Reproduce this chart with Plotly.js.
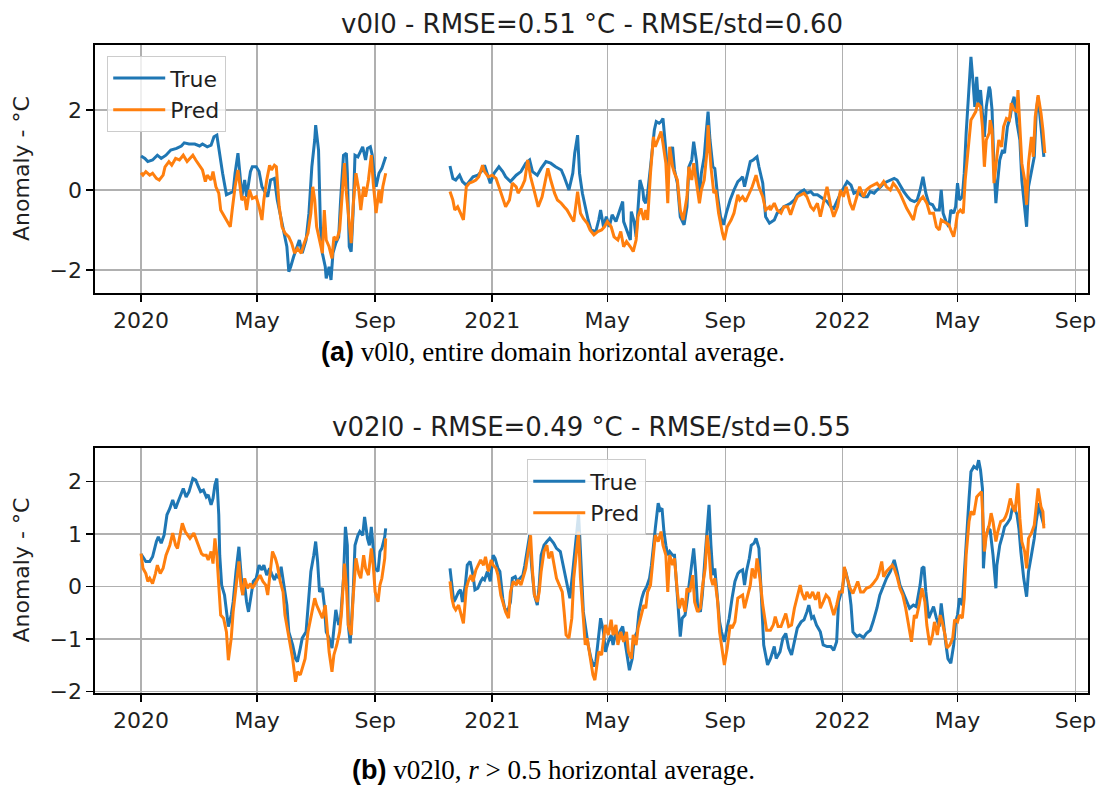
<!DOCTYPE html>
<html>
<head>
<meta charset="utf-8">
<script src="https://cdn.plot.ly/plotly-3.0.1.min.js"></script>
<style>
  html, body { margin: 0; padding: 0; background: #ffffff; }
  #chart { width: 1099px; height: 796px; }
</style>
</head>
<body>
<div id="chart"></div>
<script>
// Horizontal-average temperature anomalies (°C), sampled by day number
// counted from 1 January 2020. The null at day 290 marks the missing
// period between the 2020 and 2021 records.

// ---- v0l0 : entire domain ----
const v0l0TrueDay = [0,4,7,12,17,21,26,31,37,42,45,50,56,61,64,69,73,76,79,82,85,89,92,96,98,101,103,105,108,110,114,116,120,123,126,129,132,135,139,142,146,149,152,154,156,159,162,165,168,172,175,178,181,182,185,187,189,192,193,196,198,200,203,206,208,211,214,215,217,219,221,223,226,228,231,234,236,239,241,243,245,248,251,255,
  290,
  322,325,328,332,335,339,342,346,351,356,358,361,364,368,373,377,380,385,391,396,401,405,408,413,417,422,427,432,438,441,446,450,452,455,457,460,463,466,469,474,477,479,482,485,488,491,495,498,502,503,507,510,511,514,516,518,520,523,524,526,528,531,533,535,537,540,542,544,546,549,551,554,556,559,562,566,569,571,574,576,579,582,584,587,589,591,593,596,598,601,604,607,610,614,618,622,624,627,629,632,635,638,642,644,648,651,655,
  660,663,667,670,674,677,681,684,688,691,694,698,701,705,708,712,715,719,722,726,729,733,736,740,743,747,750,753,757,760,764,767,771,774,778,781,785,788,792,795,799,802,806,809,812,815,818,821,825,828,832,834,836,839,842,844,847,849,851,853,856,858,860,863,865,867,869,871,873,875,877,879,881,884,885,887,889,891,893,895,898,900,903,906,908,910,913,916,918,921,923,925,928,931,933,935,938,941];
const v0l0TrueVal = [0.85,0.79,0.71,0.75,0.87,0.79,0.87,1.0,1.04,1.1,1.18,1.15,1.15,1.1,1.15,1.08,1.12,1.33,1.37,0.83,0.42,-0.12,-0.08,-0.04,0.42,0.92,0.42,-0.17,0.25,-0.17,0.46,0.58,0.58,0.46,0.08,-0.04,-0.17,0.25,0.29,-0.25,-0.75,-1.08,-1.42,-2.04,-1.92,-1.67,-1.46,-1.25,-1.58,-1.25,-0.58,0.58,1.25,1.62,1.0,-0.92,-1.58,-1.92,-2.21,-1.92,-2.25,-1.58,-1.33,-1.17,-0.25,0.87,0.92,0.42,-1.42,-1.54,-0.58,0.87,0.83,0.92,1.08,0.75,1.04,1.08,0.87,0.42,0.08,0.42,0.54,0.83,
  null,
  0.6,0.29,0.25,0.37,0.21,0.12,0.21,0.33,0.37,0.5,0.62,0.37,0.17,0.42,0.58,0.46,0.33,0.21,0.37,0.46,0.67,0.75,0.46,0.37,0.54,0.71,0.67,0.58,0.5,0.33,0,0.42,0.92,1.37,0.42,-0.08,-0.42,-0.75,-1.0,-1.04,-0.75,-0.5,-0.92,-0.67,-0.92,-0.62,-0.79,-0.58,-0.29,-0.79,-1.08,-1.25,-0.54,-0.79,-1.17,-0.42,0.25,0,-0.25,-0.33,-0.08,0.58,1.0,1.5,1.71,1.67,1.71,1.79,1.25,0.42,0.83,1.08,0.5,0.17,-0.67,-0.87,-0.42,0.58,0.75,1.21,0.71,-0.17,0.42,0.83,1.42,1.96,1.25,0.58,0.54,-0.17,-0.67,-0.87,-0.58,-0.25,0,0.21,0.25,0.33,0.08,0.42,0.71,0.75,0.83,0.58,0.17,-0.67,-0.83,
  -0.75,-0.58,-0.5,-0.42,-0.37,-0.33,-0.25,-0.12,-0.04,0,-0.08,-0.04,-0.12,-0.12,-0.17,-0.25,-0.29,-0.42,-0.46,-0.25,-0.08,0.08,0.21,0.12,-0.08,-0.04,-0.12,-0.17,-0.17,-0.04,-0.08,0,0.08,0.17,0.21,0.25,0.29,0.25,0.08,-0.04,-0.17,-0.25,-0.29,-0.25,0,0.33,-0.08,-0.33,-0.37,-0.5,-0.5,0,-0.58,-0.79,-0.92,-0.5,-0.58,-0.42,0.17,-0.25,-0.17,0.42,1.42,2.5,3.33,2.75,2.08,2.83,2.08,2.5,2.0,1.33,2.08,2.58,2.5,2.0,0.58,-0.33,0.25,0.75,1.0,0.92,1.58,1.83,2.17,2.33,1.67,1.25,0.25,-0.58,-0.92,0.08,0.5,0.83,1.92,2.33,1.58,0.83];

const v0l0PredDay = [0,2,5,9,12,16,19,23,25,29,32,36,40,44,48,51,54,57,61,64,67,69,73,75,78,81,83,87,90,93,95,98,101,103,105,108,110,113,116,120,123,126,128,131,134,136,139,141,144,147,150,154,157,160,163,167,170,174,177,179,181,183,186,189,191,193,196,199,201,204,207,209,212,214,216,219,221,224,227,229,232,234,237,240,242,245,248,250,252,255,
  290,
  322,325,327,330,333,336,339,342,346,349,352,356,358,362,366,370,373,377,380,384,387,391,393,397,400,403,406,410,414,418,422,424,427,431,434,438,441,444,448,451,455,458,461,465,468,472,476,480,483,486,490,493,497,500,503,506,510,513,516,518,521,524,526,528,531,534,536,539,542,544,547,549,551,554,556,559,562,565,569,571,574,576,579,582,584,587,590,591,594,597,599,602,606,608,611,615,618,622,624,627,630,634,637,641,644,648,651,655,
  656,660,663,667,670,674,677,681,684,688,691,694,698,701,705,708,712,715,719,722,726,729,732,735,739,742,746,749,753,756,760,763,767,770,774,777,781,784,787,791,794,798,801,805,808,812,815,819,822,826,829,832,834,837,840,842,844,847,849,851,854,857,859,862,865,867,870,872,875,877,879,881,884,885,887,889,892,894,897,899,902,905,907,910,913,914,916,918,921,923,925,928,930,932,935,938,940,942];
const v0l0PredVal = [0.43,0.37,0.46,0.37,0.42,0.29,0.25,0.37,0.58,0.71,0.62,0.79,0.75,0.87,0.71,0.79,0.87,0.75,0.62,0.5,0.21,0.37,0.25,0.46,0.08,-0.08,-0.5,-0.67,-0.79,-0.92,-0.5,0.08,0.5,0.17,-0.25,-0.17,-0.5,0,-0.21,-0.17,-0.42,-0.75,-0.25,0.25,0.62,0.5,0.62,0.58,-0.42,-0.92,-1.08,-1.17,-1.33,-1.58,-1.46,-1.58,-1.33,-1.08,-0.58,0.08,-0.25,-0.92,-1.25,-1.58,-0.5,-1.25,-1.42,-1.71,-1.17,-1.25,-1.0,-0.33,0.67,-0.08,-0.58,-1.33,-0.42,0.42,0,-0.5,0.08,-0.17,0.25,0.87,0.17,-0.58,0,-0.33,0.08,0.42,
  null,
  -0.04,-0.25,-0.5,-0.42,-0.58,-0.75,0.08,0.17,0.21,0.25,0.33,0.62,0.46,0.33,0.37,0.29,0.08,-0.21,-0.42,-0.25,0.17,0.08,-0.08,0.08,0.25,0.75,0.33,-0.04,-0.42,-0.17,0.25,0.54,0.25,-0.08,-0.25,-0.33,-0.42,-0.5,-0.67,-0.79,-0.04,-0.58,-0.71,-0.83,-1.0,-1.12,-1.04,-1.0,-0.92,-0.79,-0.92,-1.17,-1.25,-1.04,-1.42,-1.29,-1.42,-1.54,-1.25,-0.67,-0.46,-0.75,-0.5,-0.75,0.42,1.33,1.08,1.25,1.46,1.17,0.67,-0.33,1.08,0.58,0.42,0.25,-0.5,-0.75,-0.17,0.58,0.25,0.67,0.17,-0.33,0,0.25,1.0,1.62,0.58,-0.08,0,-0.58,-1.08,-1.25,-0.92,-0.75,-0.58,-0.12,-0.25,-0.17,-0.29,-0.08,0.08,0.37,0.08,-0.17,-0.5,-0.42,
  -0.5,-0.33,-0.5,-0.58,-0.42,-0.42,-0.62,-0.33,-0.17,-0.12,-0.08,-0.17,-0.42,-0.5,-0.33,-0.67,-0.25,0.08,-0.42,-0.67,-0.42,0,-0.17,0.08,-0.33,-0.5,-0.17,0.08,-0.17,0,0.08,0.12,0.17,0.08,0.21,0.08,0,0.17,0.08,-0.08,-0.25,-0.46,-0.58,-0.75,-0.42,-0.25,-0.17,-0.33,-0.58,-0.58,-0.92,-1.0,-0.75,-0.79,-0.83,-0.87,-1.0,-1.17,-0.92,-0.58,-0.5,-0.58,0.25,1.08,1.75,1.83,1.96,2.17,2.08,1.58,0.58,1.25,1.42,1.75,1.5,0.17,0.92,1.25,1.08,1.58,1.79,1.75,2.17,2.0,1.96,2.5,1.58,0.67,0.25,-0.37,0.67,1.33,0.83,1.83,2.37,1.92,1.5,0.92];

// ---- v02l0 : r > 0.5 ----
const v02l0TrueDay = [0,2,5,9,12,16,18,21,24,27,30,33,36,38,42,44,47,50,54,57,59,62,65,68,70,73,75,77,79,81,82,84,87,89,91,94,96,99,102,104,106,108,110,112,115,117,120,123,126,128,131,134,136,139,141,144,146,149,152,154,158,161,163,166,168,172,175,177,180,182,184,186,189,191,193,196,199,201,203,206,208,211,213,215,216,218,221,223,226,228,231,233,236,238,240,242,244,247,249,251,254,255,
  290,
  322,324,326,328,331,333,335,338,340,343,346,348,351,354,356,358,361,364,367,369,372,374,377,379,382,385,387,390,392,395,398,400,403,405,407,410,413,415,417,420,423,426,430,433,437,439,442,445,447,450,452,454,456,457,459,461,464,466,469,472,474,476,479,482,484,487,490,492,495,497,499,502,504,507,509,512,514,517,519,522,524,527,530,532,534,536,539,541,543,545,547,549,551,554,556,558,560,562,564,567,569,572,575,576,578,580,583,585,588,590,592,594,596,598,600,603,605,608,610,613,616,619,622,624,627,629,631,634,636,639,641,644,646,648,
  649,653,656,660,662,666,669,672,675,678,681,684,688,691,694,696,699,701,704,708,711,715,719,722,725,727,731,734,737,740,742,746,749,753,756,760,763,767,770,774,777,781,783,785,788,791,794,798,801,805,808,812,814,816,818,821,824,826,829,832,834,836,839,841,844,847,849,851,853,856,858,860,863,865,868,871,873,875,877,878,880,883,885,888,891,892,895,898,900,903,906,908,910,913,915,917,920,923,925,928,931,933,936,938,941];
const v02l0TrueVal = [0.62,0.57,0.48,0.48,0.57,0.86,0.95,0.83,0.98,1.37,1.49,1.65,1.49,1.59,1.78,1.87,1.71,1.81,2.06,2.03,1.94,1.81,1.84,1.71,1.75,1.56,1.68,1.94,2.06,1.37,0.6,0.03,-0.16,-0.48,-0.76,-0.54,-0.29,0.29,0.76,0.29,-0.16,0.03,-0.29,-0.48,-0.16,0.1,0.16,0.41,0.32,0.41,0.22,0.35,0.25,0.13,0.22,0.16,0.38,0.03,-0.35,-0.86,-1.11,-1.37,-1.43,-1.17,-0.98,-0.86,-0.16,0.29,0.6,0.86,0.48,-0.1,-0.03,-0.35,-0.86,-0.98,-1.17,-0.79,-0.44,-0.73,-0.6,0.16,1.14,0.79,-0.73,-1.08,-0.16,0.79,0.98,1.05,0.98,1.33,0.92,0.79,1.14,0.73,0.35,0.29,0.67,0.73,0.95,1.11,
  null,
  0.35,0.03,-0.29,-0.22,-0.1,-0.06,-0.29,0.03,0.41,0.48,0.22,-0.06,-0.03,0.1,0.16,0.13,0.29,0.1,0.6,0.54,0.35,0.29,-0.22,-0.41,-0.48,-0.29,0.16,0.19,0.1,0.16,0.22,0.41,0.79,0.98,0.41,-0.16,-0.35,0.03,0.6,0.79,0.86,0.92,0.83,0.73,0.67,0.48,0.22,-0.1,-0.22,0.29,0.67,1.11,1.37,1.05,0.29,-0.48,-0.86,-1.11,-1.37,-1.52,-1.43,-1.05,-0.6,-0.86,-1.24,-1.05,-0.92,-1.11,-0.86,-0.98,-0.86,-0.76,-0.98,-1.37,-1.59,-1.37,-0.98,-0.86,-0.48,-0.22,-0.1,0,0.16,0.41,0.79,1.11,1.59,1.46,1.49,1.05,0.79,0.6,0.67,0.6,0.6,0.03,-0.48,-0.95,-0.6,-0.54,-0.29,0.16,0.54,0.73,0.29,-0.35,-0.48,-0.16,0.6,1.11,1.56,0.79,0.22,0.35,-0.03,-0.67,-0.86,-1.05,-0.86,-0.6,-0.22,0.1,0.25,0.29,0.32,0.03,0.29,0.54,0.79,0.83,0.92,0.73,0.03,-0.86,
  -1.11,-1.49,-1.37,-1.14,-1.37,-1.24,-0.98,-0.89,-1.17,-1.3,-1.05,-0.79,-0.67,-0.63,-0.48,-0.35,-0.6,-0.57,-0.73,-0.86,-1.11,-1.14,-1.14,-1.21,-1.05,-0.29,-0.03,0.32,0.1,-0.35,-0.86,-0.95,-0.92,-0.97,-0.89,-0.83,-0.67,-0.41,-0.16,0.03,0.16,0.29,0.41,0.51,0.29,0.03,-0.1,-0.29,-0.41,-0.35,-0.38,0.03,0.35,0.38,-0.1,-0.6,-0.48,-0.38,-0.6,-0.76,-0.32,-0.67,-1.11,-1.37,-1.46,-1.11,-0.67,-0.54,-0.22,-0.35,0.29,0.92,1.68,2.19,2.29,2.25,2.41,2.22,1.87,0.35,0.92,1.11,1.08,0.6,-0.03,0.41,0.79,0.98,1.14,1.21,1.3,1.49,1.52,1.37,1.11,0.67,0.16,-0.19,0.29,0.6,0.92,1.24,1.59,1.37,1.17];

const v02l0PredDay = [0,2,5,7,9,12,15,17,20,23,26,30,33,36,38,41,43,46,49,51,55,57,60,63,65,68,70,73,75,77,79,81,83,86,89,91,94,96,99,102,104,106,108,111,114,116,119,122,124,127,130,132,134,137,140,142,145,148,150,153,155,158,161,163,166,168,171,174,177,181,183,186,189,192,194,196,199,201,204,207,209,212,214,216,219,221,224,227,229,232,234,237,240,242,244,247,249,251,254,255,
  290,
  322,324,326,328,331,333,336,339,341,344,346,349,351,354,357,359,362,365,367,370,372,375,378,380,383,385,388,391,393,396,399,401,404,406,408,410,413,415,417,420,423,425,428,431,433,436,439,441,443,446,449,451,454,456,458,461,463,465,468,471,473,475,477,480,482,484,487,490,492,495,497,500,503,506,508,511,513,516,518,521,524,526,528,531,534,536,539,542,544,547,549,551,554,556,559,561,564,567,569,572,575,577,580,583,585,588,590,592,594,596,598,601,603,606,608,611,614,616,619,622,624,627,629,632,635,637,640,642,645,648,
  649,652,656,659,661,664,667,669,672,675,678,681,684,687,689,692,694,697,700,703,706,708,711,714,717,719,722,725,728,731,733,736,739,742,744,747,750,753,756,760,763,767,769,772,774,777,780,783,785,788,791,794,797,800,803,806,808,811,814,817,819,822,825,827,830,833,835,838,840,843,846,848,851,853,856,858,860,863,865,868,871,873,876,878,879,881,884,886,888,891,893,896,899,901,903,906,909,911,914,916,918,921,923,925,928,931,933,935,938,940,941];
const v02l0PredVal = [0.63,0.35,0.25,0.1,0.16,0.06,0.25,0.41,0.25,0.35,0.6,0.79,1.02,0.79,0.73,0.98,1.21,1.05,0.98,0.92,1.02,0.92,0.79,0.63,0.6,0.6,0.51,0.67,0.44,0.92,0.6,0.03,-0.54,-0.6,-0.86,-1.4,-0.98,-0.48,0.03,0.48,0.03,-0.16,0.16,-0.03,0.06,-0.03,0.06,0.16,0.22,0.1,0.03,-0.16,0.22,0.67,0.54,0.41,0.1,-0.1,-0.54,-0.86,-1.11,-1.37,-1.81,-1.62,-1.68,-1.56,-1.37,-0.86,-0.6,-0.22,-0.35,-0.48,-0.6,-0.35,-0.86,-1.24,-1.62,-1.3,-1.11,-0.86,-0.48,0.44,0.03,-0.73,-0.92,-0.22,0.54,0.25,0.16,0.6,0.35,0.22,0.73,0.41,-0.1,-0.29,0.03,0.16,0.54,0.92,
  null,
  0.1,-0.22,-0.38,-0.44,-0.35,-0.48,-0.7,-0.03,0.1,0.22,0.1,0.32,0.41,0.51,0.41,0.57,0.29,0.51,0.41,0.35,0.22,-0.16,-0.35,-0.48,-0.6,-0.1,0.1,0.03,0.13,0.03,0.22,0.35,0.73,0.98,0.29,-0.16,-0.29,-0.1,0.29,0.67,0.79,0.54,0.67,0.35,0.16,0.03,-0.1,-0.48,-0.92,-0.98,-0.6,0.16,0.67,1.05,0.16,-0.67,-1.11,-0.98,-1.37,-1.68,-1.78,-1.49,-1.24,-1.3,-0.98,-0.73,-0.92,-0.63,-0.92,-0.73,-1.11,-0.86,-1.05,-0.86,-1.24,-1.37,-0.92,-1.11,-0.79,-0.54,-0.35,-0.41,-0.1,0.03,0.6,0.98,0.86,1.05,0.79,0.6,-0.1,0.6,0.41,0.54,-0.1,-0.41,-0.22,-0.48,-0.03,-0.1,0.22,-0.29,-0.48,-0.41,-0.03,0.35,0.98,0.67,0.16,0.03,0.16,-0.29,-0.86,-1.24,-1.49,-1.17,-0.73,-0.79,-0.67,-0.22,-0.19,-0.16,-0.41,-0.16,0.03,0.35,0.16,0.54,0.16,-0.35,
  -0.48,-0.83,-0.83,-0.73,-0.57,-0.76,-0.76,-0.67,-0.51,-0.76,-0.73,-0.41,-0.16,0.03,-0.13,-0.25,-0.1,-0.22,-0.1,-0.25,-0.1,-0.41,-0.29,-0.16,-0.22,-0.35,-0.54,-0.35,-0.1,-0.1,0.38,0.16,-0.03,-0.13,-0.03,0.1,-0.1,-0.1,-0.03,0,0.06,0.16,0.25,0.48,0.19,0.29,0.35,0.41,0.35,0.19,-0.03,-0.16,-0.41,-0.76,-1.05,-0.54,-0.6,-0.35,-0.03,-0.29,-0.73,-1.11,-0.92,-0.67,-0.92,-0.54,-0.67,-0.92,-1.17,-1.11,-0.98,-0.63,-0.67,-0.54,-0.6,-0.22,0.6,1.24,1.43,1.37,1.71,1.75,1.81,1.11,0.67,0.98,1.17,1.4,1.24,0.86,1.05,1.24,1.27,1.33,1.43,1.68,1.49,1.43,1.97,1.3,0.86,0.67,0.35,0.92,1.02,1.17,1.59,1.87,1.52,1.43,1.11];

// ---- axis ticks ----
const tickDates  = ['2020-01-01','2020-05-01','2020-09-01','2021-01-01','2021-05-01','2021-09-01','2022-01-01','2022-05-01','2022-09-01'];
const tickLabels = ['2020','May','Sep','2021','May','Sep','2022','May','Sep'];
const v0l0Ticks  = [-2, 0, 2];
const v02l0Ticks = [-2, -1, 0, 1, 2];

const seriesNames = ['True', 'Pred'];
const panelTitles = [
  'v0l0 - RMSE=0.51 °C - RMSE/std=0.60',
  'v02l0 - RMSE=0.49 °C - RMSE/std=0.55'
];
const yTitle = 'Anomaly - °C';
const captions = [
  '<b><span style="font-family:Liberation Sans">(a)</span></b> v0l0, entire domain horizontal average.',
  '<b><span style="font-family:Liberation Sans">(b)</span></b> v02l0, <i>r</i> &gt; 0.5 horizontal average.'
];

// ---- helpers ----
const EPOCH = Date.UTC(2020, 0, 1);
const toDates = days => days.map(d => new Date(EPOCH + d * 864e5).toISOString().slice(0, 10));

const SANS = 'DejaVu Sans, Liberation Sans, sans-serif';
const SERIF = 'Liberation Serif, serif';
const TEXT = '#1f1f1f';
const BLUE = '#1f77b4';
const ORANGE = '#ff7f0e';

function line(days, vals, name, color, xa, ya, legendId) {
  return {
    type: 'scatter', mode: 'lines',
    x: toDates(days), y: vals, name: name,
    xaxis: xa, yaxis: ya, legend: legendId,
    line: { color: color, width: 3 },
    connectgaps: false, hoverinfo: 'skip'
  };
}

const traces = [
  line(v0l0TrueDay,  v0l0TrueVal,  seriesNames[0], BLUE,   'x',  'y',  'legend'),
  line(v0l0PredDay,  v0l0PredVal,  seriesNames[1], ORANGE, 'x',  'y',  'legend'),
  line(v02l0TrueDay, v02l0TrueVal, seriesNames[0], BLUE,   'x2', 'y2', 'legend2'),
  line(v02l0PredDay, v02l0PredVal, seriesNames[1], ORANGE, 'x2', 'y2', 'legend2')
];

const frame = {
  showline: true, linecolor: '#000', linewidth: 1.6, mirror: true,
  ticks: 'outside', ticklen: 7, tickwidth: 1.6, tickcolor: '#000',
  showgrid: true, gridcolor: '#b0b0b0', gridwidth: 1.5,
  zeroline: false, fixedrange: true,
  tickfont: { family: SANS, size: 22, color: TEXT }
};

function xAxis(anchor) {
  return Object.assign({}, frame, {
    type: 'date', anchor: anchor, domain: [0, 1],
    range: ['2019-11-14', '2022-09-14'],
    tickmode: 'array', tickvals: tickDates, ticktext: tickLabels
  });
}

const legendBox = {
  bgcolor: 'rgba(255,255,255,0.8)', bordercolor: '#cccccc', borderwidth: 1.3,
  font: { family: SANS, size: 22, color: TEXT },
  xanchor: 'left', yanchor: 'top', tracegroupgap: 0, itemwidth: 52
};

const layout = {
  width: 1099, height: 796,
  paper_bgcolor: '#ffffff', plot_bgcolor: '#ffffff',
  margin: { l: 95, r: 11, t: 45, b: 103 },
  showlegend: true,
  xaxis: xAxis('y'),
  yaxis: Object.assign({}, frame, {
    anchor: 'x', domain: [0.6173, 1], range: [-2.575, 3.625],
    tickmode: 'array', tickvals: v0l0Ticks
  }),
  xaxis2: xAxis('y2'),
  yaxis2: Object.assign({}, frame, {
    anchor: 'x2', domain: [0, 0.3781], range: [-2.025, 2.642],
    tickmode: 'array', tickvals: v02l0Ticks
  }),
  legend: Object.assign({}, legendBox, { x: 0.012, y: 0.983 }),
  legend2: Object.assign({}, legendBox, { x: 0.435, y: 0.361 }),
  annotations: [
    { text: panelTitles[0], xref: 'paper', yref: 'paper', x: 0.5, y: 1.033,
      xanchor: 'center', yanchor: 'middle', showarrow: false,
      font: { family: SANS, size: 26, color: TEXT } },
    { text: panelTitles[1], xref: 'paper', yref: 'paper', x: 0.5, y: 0.411,
      xanchor: 'center', yanchor: 'middle', showarrow: false,
      font: { family: SANS, size: 26, color: TEXT } },
    { text: yTitle, xref: 'paper', yref: 'paper', x: -0.0735, y: 0.8087,
      xanchor: 'center', yanchor: 'middle', textangle: -90, showarrow: false,
      font: { family: SANS, size: 22, color: TEXT } },
    { text: yTitle, xref: 'paper', yref: 'paper', x: -0.0735, y: 0.189,
      xanchor: 'center', yanchor: 'middle', textangle: -90, showarrow: false,
      font: { family: SANS, size: 22, color: TEXT } },
    { text: captions[0], xref: 'paper', yref: 'paper', x: 0.461, y: 0.526,
      xanchor: 'center', yanchor: 'middle', showarrow: false,
      font: { family: SERIF, size: 27, color: '#000' } },
    { text: captions[1], xref: 'paper', yref: 'paper', x: 0.462, y: -0.119,
      xanchor: 'center', yanchor: 'middle', showarrow: false,
      font: { family: SERIF, size: 27, color: '#000' } }
  ]
};

Plotly.newPlot('chart', traces, layout, { staticPlot: true, displayModeBar: false });
</script>
</body>
</html>
